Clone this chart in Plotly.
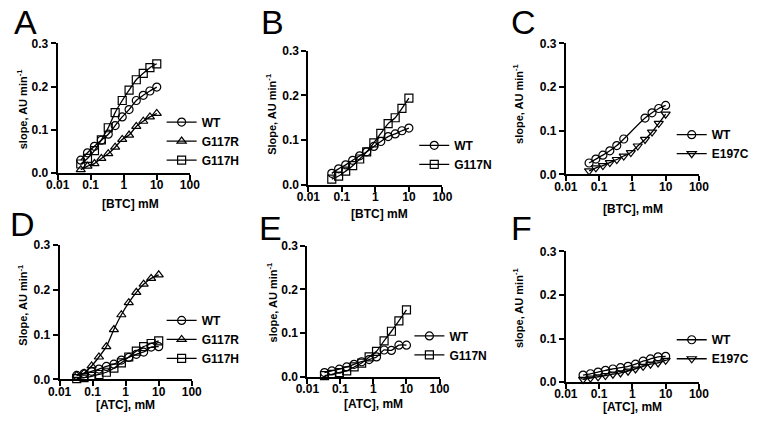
import plotly.graph_objects as go

W, H = 775, 429

# ---------------- data ----------------
btc_mM = [0.05, 0.08, 0.13, 0.21, 0.34, 0.55, 0.9, 1.45, 2.4, 3.9, 6.2, 10]
btc_mM_wt_c = [0.05, 0.08, 0.13, 0.21, 0.34, 0.55, 2.4, 3.9, 6.2, 10]
atc_mM = [0.033, 0.055, 0.093, 0.155, 0.26, 0.44, 0.74, 1.24, 2.1, 3.5, 5.9, 10]

a_wt = [0.030, 0.047, 0.062, 0.076, 0.090, 0.110, 0.130, 0.147, 0.168, 0.180, 0.190, 0.199]
a_g117r = [0.008, 0.016, 0.022, 0.034, 0.045, 0.060, 0.078, 0.088, 0.108, 0.120, 0.130, 0.138]
a_g117h = [0.021, 0.034, 0.052, 0.077, 0.105, 0.140, 0.168, 0.192, 0.216, 0.231, 0.244, 0.253]

b_wt = [0.026, 0.036, 0.045, 0.055, 0.065, 0.074, 0.086, 0.097, 0.108, 0.114, 0.121, 0.127]
b_g117n = [0.013, 0.020, 0.031, 0.043, 0.058, 0.074, 0.094, 0.115, 0.137, 0.150, 0.171, 0.194]

c_wt = [0.026, 0.035, 0.044, 0.054, 0.066, 0.081, 0.129, 0.141, 0.151, 0.158]
c_e197c = [0.008, 0.015, 0.020, 0.027, 0.034, 0.042, 0.050, 0.065, 0.080, 0.097, 0.117, 0.138]

d_wt = [0.009, 0.013, 0.018, 0.023, 0.029, 0.034, 0.043, 0.049, 0.056, 0.061, 0.072, 0.073]
d_g117r = [0.009, 0.014, 0.030, 0.050, 0.073, 0.111, 0.144, 0.171, 0.194, 0.212, 0.225, 0.233]
d_g117h = [0.002, 0.004, 0.007, 0.011, 0.016, 0.025, 0.037, 0.050, 0.063, 0.073, 0.080, 0.086]

e_wt = [0.009, 0.013, 0.017, 0.022, 0.028, 0.034, 0.039, 0.045, 0.061, 0.060, 0.072, 0.072]
e_g117n = [0.002, 0.005, 0.009, 0.013, 0.022, 0.031, 0.045, 0.058, 0.082, 0.104, 0.128, 0.153]

f_wt = [0.016, 0.019, 0.023, 0.027, 0.030, 0.033, 0.036, 0.041, 0.048, 0.053, 0.058, 0.059]
f_e197c = [0.006, 0.009, 0.012, 0.015, 0.018, 0.021, 0.025, 0.030, 0.036, 0.041, 0.044, 0.050]

x_tickvals = [0.01, 0.1, 1, 10, 100]
x_ticktext = ["0.01", "0.1", "1", "10", "100"]
y_tickvals = [0, 0.1, 0.2, 0.3]
y_ticktext = ["0.0", "0.1", "0.2", "0.3"]

FONT = "Liberation Sans, Arial, sans-serif"

def px_x(p):
    return p / W

def px_y(p):
    return 1 - p / H

# panel layout (pixel boxes: x0, x1, ytop, ybottom)
panels = [
    dict(letter="A", box=(47, 183, 37.7, 171.7), letter_pos=(14, 16),
         ytitle="slope, AU min<sup>-1</sup>", ytitle_pos=(10, 106),
         xtitle="[BTC] mM", xtitle_pos=(122, 204),
         legend_pos=(182, 122),
         series=[("WT", btc_mM, a_wt, "circle-open"),
                 ("G117R", btc_mM, a_g117r, "triangle-up-open"),
                 ("G117H", btc_mM, a_g117h, "square-open")]),
    dict(letter="B", box=(305, 443, 45, 184), letter_pos=(268, 16),
         ytitle="Slope, AU min<sup>-1</sup>", ytitle_pos=(267, 110),
         xtitle="[BTC] mM", xtitle_pos=(378, 214),
         legend_pos=(442, 146),
         series=[("WT", btc_mM, b_wt, "circle-open"),
                 ("G117N", btc_mM, b_g117n, "square-open")]),
    dict(letter="C", box=(570, 707, 37.7, 173), letter_pos=(526, 16),
         ytitle="slope, AU min<sup>-1</sup>", ytitle_pos=(521, 100),
         xtitle="[BTC], mM", xtitle_pos=(639, 209),
         legend_pos=(707, 135),
         series=[("WT", btc_mM_wt_c, c_wt, "circle-open"),
                 ("E197C", btc_mM, c_e197c, "triangle-down-open")]),
    dict(letter="D", box=(49, 185, 245.7, 385), letter_pos=(11, 224),
         ytitle="Slope, AU min<sup>-1</sup>", ytitle_pos=(11, 308),
         xtitle="[ATC], mM", xtitle_pos=(117, 411),
         legend_pos=(182, 327),
         series=[("WT", atc_mM, d_wt, "circle-open"),
                 ("G117R", atc_mM, d_g117r, "triangle-up-open"),
                 ("G117H", atc_mM, d_g117h, "square-open")]),
    dict(letter="E", box=(304, 440, 247, 382), letter_pos=(266, 228),
         ytitle="slope, AU min<sup>-1</sup>", ytitle_pos=(268, 305),
         xtitle="[ATC], mM", xtitle_pos=(372, 410),
         legend_pos=(437, 343),
         series=[("WT", atc_mM, e_wt, "circle-open"),
                 ("G117N", atc_mM, e_g117n, "square-open")]),
    dict(letter="F", box=(570, 707, 252.7, 387.7), letter_pos=(524, 228),
         ytitle="slope, AU min<sup>-1</sup>", ytitle_pos=(521, 311),
         xtitle="[ATC], mM", xtitle_pos=(639, 414),
         legend_pos=(707, 347),
         series=[("WT", atc_mM, f_wt, "circle-open"),
                 ("E197C", atc_mM, f_e197c, "triangle-down-open")]),
]

fig = go.Figure()
annotations = []
layout_extra = {}

for i, p in enumerate(panels):
    n = i + 1
    xa = "xaxis" if n == 1 else f"xaxis{n}"
    ya = "yaxis" if n == 1 else f"yaxis{n}"
    xref = "x" if n == 1 else f"x{n}"
    yref = "y" if n == 1 else f"y{n}"
    lg = "legend" if n == 1 else f"legend{n}"
    x0, x1, yt, yb = p["box"]

    layout_extra[xa] = dict(
        domain=[px_x(x0), px_x(x1)], anchor=yref, type="log", range=[-2, 2],
        tickvals=x_tickvals, ticktext=x_ticktext, showgrid=False, zeroline=False,
        showline=True, linecolor="black", linewidth=2, ticks="outside",
        ticklen=5, tickwidth=2, tickcolor="black", ticklabelstandoff=-5,
        tickfont=dict(family=FONT, size=12, color="black", weight="bold"),
    )
    layout_extra[ya] = dict(
        domain=[px_y(yb), px_y(yt)], anchor=xref, range=[0, 0.3],
        tickvals=y_tickvals, ticktext=y_ticktext, showgrid=False, zeroline=False,
        showline=True, linecolor="black", linewidth=2, ticks="outside",
        ticklen=5, tickwidth=2, tickcolor="black",
        tickfont=dict(family=FONT, size=12, color="black", weight="bold"),
    )
    lx, ly = p["legend_pos"]
    layout_extra[lg] = dict(
        x=px_x(lx - 28), y=px_y(ly - 18), xanchor="left", yanchor="top",
        bgcolor="rgba(0,0,0,0)", borderwidth=0, tracegroupgap=0,
        itemwidth=30,
        font=dict(family=FONT, size=12, color="black", weight="bold"),
    )

    for name, xs, ys, sym in p["series"]:
        fig.add_trace(go.Scatter(
            x=xs, y=ys, name=name, mode="lines+markers",
            xaxis=xref, yaxis=yref, legend=lg, cliponaxis=False,
            line=dict(color="black", width=1.3, shape="spline", smoothing=0.6),
            marker=dict(symbol=sym, size=8, color="black",
                        line=dict(color="black", width=1.2)),
        ))

    annotations.append(dict(
        text=p["letter"], x=px_x(p["letter_pos"][0]), y=px_y(p["letter_pos"][1]),
        xref="paper", yref="paper", showarrow=False, xanchor="center", yanchor="middle",
        font=dict(family=FONT, size=34, color="black"),
    ))
    annotations.append(dict(
        text=p["ytitle"], x=px_x(p["ytitle_pos"][0]), y=px_y(p["ytitle_pos"][1]),
        xref="paper", yref="paper", showarrow=False, textangle=-90,
        xanchor="center", yanchor="middle",
        font=dict(family=FONT, size=11, color="black", weight="bold"),
    ))
    annotations.append(dict(
        text=p["xtitle"], x=px_x(p["xtitle_pos"][0]), y=px_y(p["xtitle_pos"][1]),
        xref="paper", yref="paper", showarrow=False,
        xanchor="center", yanchor="middle",
        font=dict(family=FONT, size=12, color="black", weight="bold"),
    ))

fig.update_layout(
    width=W, height=H, margin=dict(l=0, r=0, t=0, b=0),
    paper_bgcolor="white", plot_bgcolor="white",
    showlegend=True, annotations=annotations,
    font=dict(family=FONT, color="black"),
    **layout_extra,
)

fig.write_html(
    "out.html",
    config={"displayModeBar": False},
    post_script="document.body.style.margin='0';document.body.style.padding='0';",
)
